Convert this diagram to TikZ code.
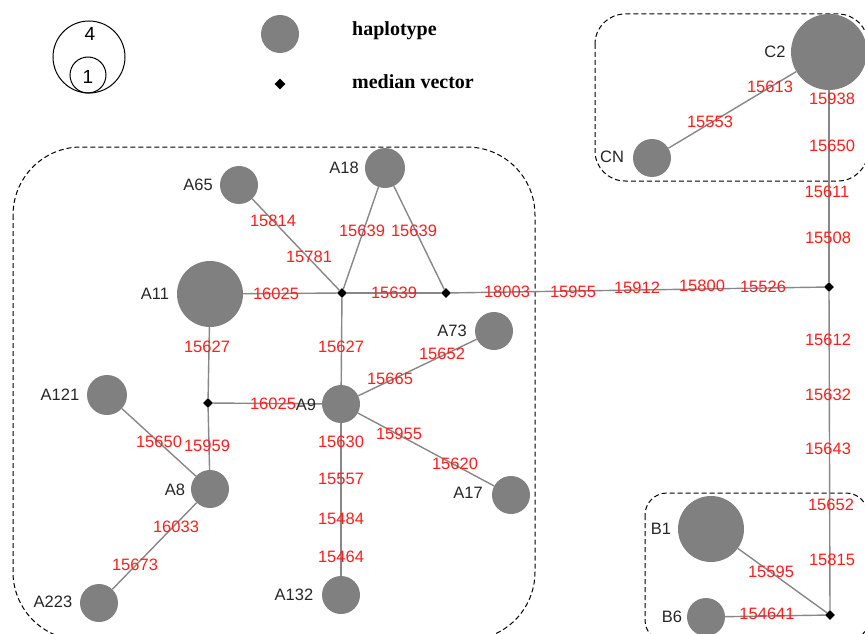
\documentclass[tikz,border=0pt]{standalone}
\usepackage{fontspec}
\setmainfont{Liberation Serif}
\newfontfamily\labfont{Liberation Sans}
\usetikzlibrary{shapes.geometric}
\definecolor{hapgray}{RGB}{128,128,128}
\definecolor{edgegray}{RGB}{135,135,135}
\definecolor{mutred}{RGB}{255,30,30}
\tikzset{
  hap/.style={circle,fill=hapgray,inner sep=0pt,minimum size=#1},
  mv/.style={diamond,fill=black,inner sep=0pt,minimum width=10pt,minimum height=10pt},
  edge/.style={draw=edgegray,line width=1.4pt},
  mut/.style={text=mutred,font=\labfont\fontsize{16.5}{17}\selectfont,inner sep=0pt},
  hname/.style={text=black!85,font=\labfont\fontsize{16.5}{17}\selectfont,inner sep=0pt},
  grp/.style={draw=black,line width=1pt,dash pattern=on 5pt off 3pt},
  legtext/.style={font=\bfseries\fontsize{20}{21}\selectfont,anchor=west,inner sep=0pt}
}
\begin{document}
\begin{tikzpicture}[x=1pt,y=-1pt]
\useasboundingbox (0,0) rectangle (865,634);
% groups
\draw[grp,rounded corners=68pt] (13,147) rectangle (535,640);
\draw[grp,rounded corners=30pt] (595,14) rectangle (868,181);
\draw[grp,rounded corners=22pt] (645,493) rectangle (868,642);
% legend
\draw[line width=1pt] (89,57) circle (36);
\draw[line width=1pt] (88,75) circle (18);
\node[font=\labfont\fontsize{19}{20}\selectfont,inner sep=0pt] (k4) at (90,34) {4};
\node[font=\labfont\fontsize{19}{20}\selectfont,inner sep=0pt] (k1) at (88,77) {1};
\node[hap=38pt] (lh) at (280,34) {};
\node[mv,minimum width=11pt,minimum height=11pt] (lm) at (280,84) {};
\node[legtext] (lht) at (352,31) {haplotype};
\node[legtext] (lmt) at (352,82) {median vector};
% median vectors
\node[mv] (m1) at (829,287) {};
\node[mv] (m2) at (446,293) {};
\node[mv] (m3) at (342,293) {};
\node[mv] (m4) at (208,403) {};
\node[mv] (m5) at (830,615) {};
% haplotypes
\node[hap=76pt] (c2) at (829,52) {};
\node[hap=38pt] (cn) at (652,158) {};
\node[hap=40pt] (a18) at (385,168) {};
\node[hap=38pt] (a65) at (239,185) {};
\node[hap=66pt] (a11) at (210,294) {};
\node[hap=38pt] (a73) at (494,331) {};
\node[hap=38pt] (a9) at (341,404) {};
\node[hap=40pt] (a121) at (107,395) {};
\node[hap=38pt] (a8) at (210,489) {};
\node[hap=38pt] (a17) at (511,495) {};
\node[hap=38pt] (a132) at (341,595) {};
\node[hap=38pt] (a223) at (99,603) {};
\node[hap=66pt] (b1) at (711,529) {};
\node[hap=38pt] (b6) at (706,617) {};
% edges
\path[edge] (c2) -- (m1);
\path[edge] (c2) -- (cn);
\path[edge] (m1) -- (m2);
\path[edge] (m2) -- (m3);
\path[edge] (m3) -- (a11);
\path[edge] (m3) -- (a65);
\path[edge] (m3) -- (a18);
\path[edge] (m2) -- (a18);
\path[edge] (m3) -- (a9);
\path[edge] (a11) -- (m4);
\path[edge] (m4) -- (a9);
\path[edge] (m4) -- (a8);
\path[edge] (a121) -- (a8);
\path[edge] (a8) -- (a223);
\path[edge] (a9) -- (a73);
\path[edge] (a9) -- (a17);
\path[edge] (a9) -- (a132);
\path[edge] (m1) -- (m5);
\path[edge] (b1) -- (m5);
\path[edge] (b6) -- (m5);
% haplotype names
\node[hname] (nc2) at (775,52) {C2};
\node[hname] (ncn) at (612,157) {CN};
\node[hname] (na65) at (198,185) {A65};
\node[hname] (na11) at (155,294) {A11};
\node[hname] (na18) at (344,168) {A18};
\node[hname] (na73) at (452,331) {A73};
\node[hname] (na9) at (306,405) {A9};
\node[hname] (na17) at (468,493) {A17};
\node[hname] (na132) at (294,595) {A132};
\node[hname] (na121) at (60,395) {A121};
\node[hname] (na8) at (175,490) {A8};
\node[hname] (na223) at (53,602) {A223};
\node[hname] (nb1) at (661,529) {B1};
\node[hname] (nb6) at (672,617) {B6};
% mutation labels
\node[mut] (t1) at (770,87) {15613};
\node[mut] (t2) at (710,122) {15553};
\node[mut] (t3) at (832,99) {15938};
\node[mut] (t4) at (832,146) {15650};
\node[mut] (t5) at (827,192) {15611};
\node[mut] (t6) at (828,238) {15508};
\node[mut] (t7) at (573,292) {15955};
\node[mut] (t8) at (637,288) {15912};
\node[mut] (t9) at (702,286) {15800};
\node[mut] (t10) at (763,287) {15526};
\node[mut] (t11) at (507,292) {18003};
\node[mut] (t12) at (394,293) {15639};
\node[mut] (t13) at (362,231) {15639};
\node[mut] (t14) at (414,231) {15639};
\node[mut] (t15) at (273,221) {15814};
\node[mut] (t16) at (309,257) {15781};
\node[mut] (t17) at (276,294) {16025};
\node[mut] (t18) at (207,347) {15627};
\node[mut] (t19) at (273,404) {16025};
\node[mut] (t20) at (159,442) {15650};
\node[mut] (t21) at (207,446) {15959};
\node[mut] (t22) at (176,527) {16033};
\node[mut] (t23) at (135,565) {15673};
\node[mut] (t24) at (341,347) {15627};
\node[mut] (t25) at (390,379) {15665};
\node[mut] (t26) at (442,354) {15652};
\node[mut] (t27) at (399,434) {15955};
\node[mut] (t28) at (455,464) {15620};
\node[mut] (t29) at (341,442) {15630};
\node[mut] (t30) at (341,479) {15557};
\node[mut] (t31) at (341,519) {15484};
\node[mut] (t32) at (341,557) {15464};
\node[mut] (t33) at (828,340) {15612};
\node[mut] (t34) at (828,395) {15632};
\node[mut] (t35) at (828,449) {15643};
\node[mut] (t36) at (831,505) {15652};
\node[mut] (t37) at (832,560) {15815};
\node[mut] (t38) at (771,572) {15595};
\node[mut] (t39) at (767,614) {154641};
\end{tikzpicture}
\end{document}
